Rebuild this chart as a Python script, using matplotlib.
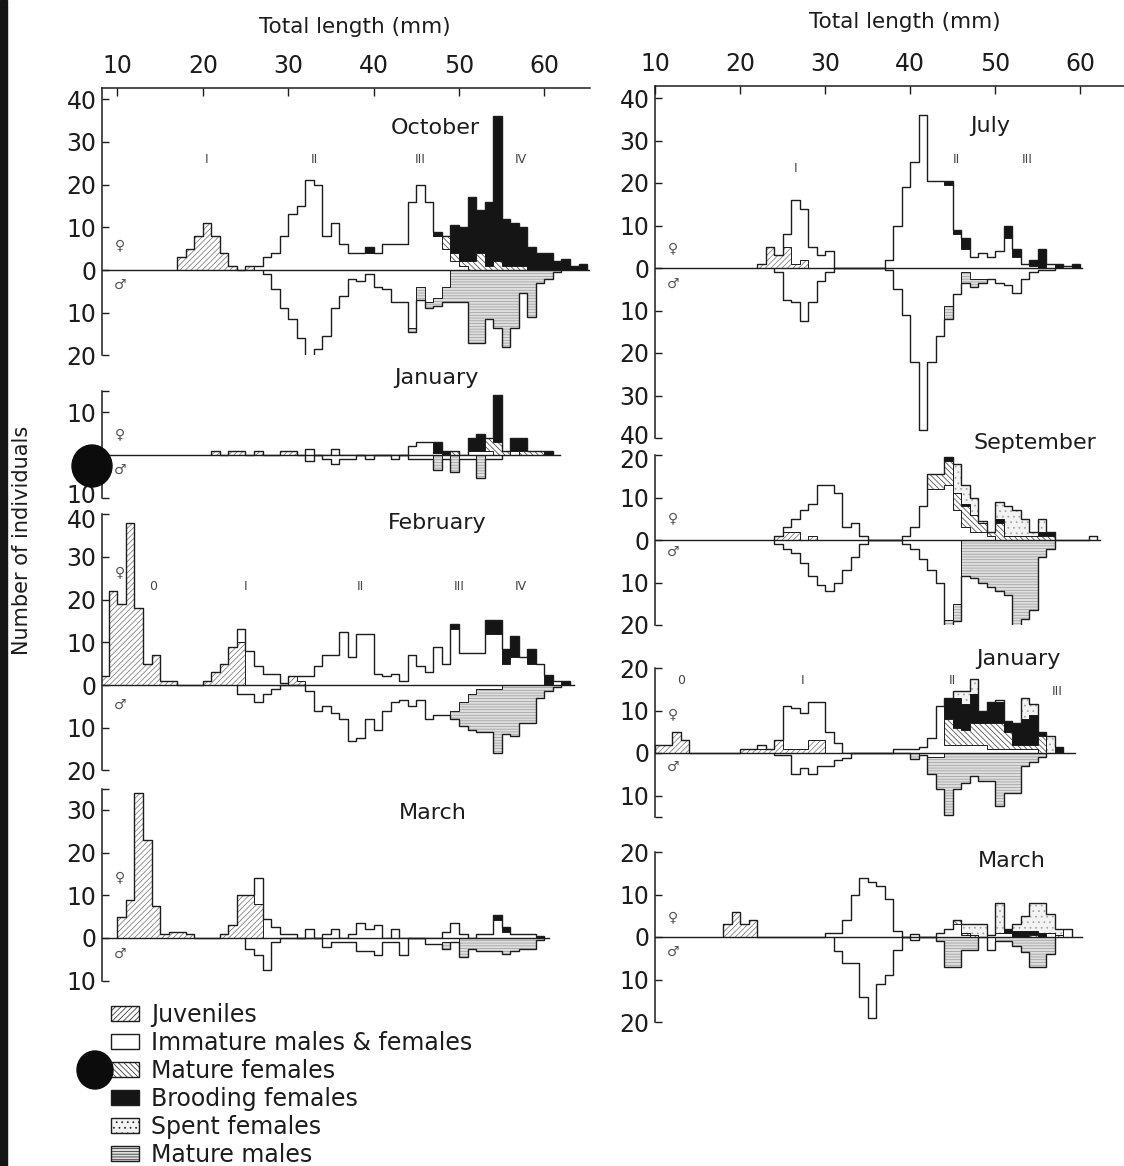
import numpy as np
import matplotlib.pyplot as plt
from matplotlib.patches import Patch, Rectangle, Ellipse
from matplotlib.transforms import ScaledTranslation

W, H = 1124, 1166
INK = '#1c1c1c'
plt.rcParams['font.family'] = ['DejaVu Sans']
plt.rcParams['hatch.linewidth'] = 0.5

# ---- counts per 1 mm length class: {class: n} ----
# October (left)
OCT_F_JUV = {17: 3, 18: 5, 19: 8, 20: 11, 21: 8, 22: 4, 23: 1, 25: 1}
OCT_F_IMM = {26: 1, 27: 3, 28: 4, 29: 8, 30: 13, 31: 15, 32: 21, 33: 20, 34: 8, 35: 11, 36: 6,
             37: 4, 38: 4, 39: 4, 40: 4, 41: 6, 42: 6, 43: 6, 44: 16, 45: 20, 46: 16, 47: 8,
             48: 5, 49: 2, 50: 1}
OCT_F_MAT = {48: 3, 49: 2, 50: 1, 51: 2, 52: 4, 53: 1, 54: 2, 55: 1, 56: 1, 57: 1}
OCT_F_BRD = {39: 1.5, 47: 1, 49: 6.5, 50: 8, 51: 15, 52: 10, 53: 15, 54: 34, 55: 11, 56: 10,
             57: 9, 58: 5.5, 59: 4, 60: 4, 61: 2, 62: 2.5, 63: 1, 64: 1.5}
OCT_M_IMM = {27: 1, 28: 4.5, 29: 9, 30: 11.5, 31: 16, 32: 20.5, 33: 18.5, 34: 15.5, 35: 9, 36: 6,
             37: 2, 38: 2.5, 39: 1, 40: 4, 41: 4.5, 42: 7.5, 43: 7.5, 44: 13.5, 45: 4, 46: 7.5,
             47: 6.5, 48: 4}
OCT_M_MAT = {44: 1, 45: 3, 46: 1.5, 47: 2, 48: 3.5, 49: 7.5, 50: 7.5, 51: 17, 52: 17, 53: 11.5,
             54: 13.5, 55: 18, 56: 13.5, 57: 5.5, 58: 11, 59: 3, 60: 2, 61: 0.5}

# January (left)
JAN1_F_JUV = {21: 1, 23: 1, 24: 1, 26: 1, 29: 1, 30: 1}
JAN1_F_IMM = {32: 1.5, 35: 1.5, 44: 2, 45: 3, 46: 3, 47: 0.5, 51: 1, 52: 1, 53: 1, 56: 1}
JAN1_F_MAT = {49: 1, 53: 3, 54: 3, 55: 1, 57: 1, 58: 1, 59: 1}
JAN1_F_BRD = {47: 2.5, 48: 1, 51: 3, 52: 4, 54: 11, 56: 3, 57: 3, 60: 1}
JAN1_M_IMM = {32: 1.5, 34: 1, 35: 2, 36: 1, 37: 1, 39: 1, 42: 1, 44: 1, 45: 1, 46: 1, 48: 1,
              50: 1, 51: 1, 53: 1, 54: 1}
JAN1_M_MAT = {47: 3.5, 49: 4, 52: 5.5}

# February (left)
FEB_F_JUV = {8: 2, 9: 22, 10: 19, 11: 38, 12: 18, 13: 5, 14: 7, 15: 1, 16: 1, 20: 1, 21: 3,
             22: 5, 23: 9, 24: 10, 30: 2, 31: 1}
FEB_F_IMM = {24: 3, 25: 8, 26: 4.5, 27: 2.5, 28: 2.5, 29: 0.5, 31: 1, 32: 2, 33: 4.5, 34: 7,
             35: 7, 36: 12.5, 37: 6.5, 38: 12, 39: 12, 40: 2.5, 41: 2, 42: 2.5, 43: 1, 44: 7,
             45: 4.5, 46: 3, 47: 9, 48: 5, 49: 13, 50: 7.5, 51: 7.5, 52: 7.5, 53: 12, 54: 12,
             55: 5, 56: 6.5, 57: 6.5, 58: 5, 59: 5, 61: 1}
FEB_F_BRD = {49: 1.3, 53: 3.3, 54: 3.3, 55: 3.5, 56: 5, 58: 3.5, 60: 2.4, 62: 1}
FEB_M_IMM = {24: 2, 25: 2, 26: 4, 27: 2, 28: 1, 32: 1.5, 33: 6, 34: 5, 35: 6.5, 36: 8, 37: 13,
             38: 12.5, 39: 8, 40: 10.5, 41: 6, 42: 4, 43: 3.5, 44: 5, 45: 3.5, 46: 8, 47: 7,
             48: 7, 49: 6, 50: 4, 51: 2, 52: 1, 53: 1, 54: 1}
FEB_M_MAT = {49: 2, 50: 5.5, 51: 8.5, 52: 10, 53: 10, 54: 15, 55: 11.5, 56: 12, 57: 9, 58: 9,
             59: 3, 60: 1.5, 61: 0.5}

# March (left)
MAR1_F_JUV = {10: 5, 11: 9, 12: 34, 13: 23, 14: 7.5, 15: 1, 16: 1.5, 17: 1.5, 18: 1, 22: 1,
              23: 3, 24: 10, 25: 10, 26: 8}
MAR1_F_IMM = {26: 6, 27: 4.5, 28: 2.5, 29: 1, 30: 1, 32: 2, 34: 1, 35: 2, 37: 1, 38: 3.5,
              39: 2, 40: 3, 42: 2, 48: 1.5, 49: 3.5, 50: 1, 52: 1, 53: 1, 54: 4.3, 55: 1.5,
              56: 1, 57: 1, 58: 1}
MAR1_F_BRD = {54: 1, 55: 1, 59: 0.5}
MAR1_M_IMM = {25: 2.5, 26: 4, 27: 7.5, 28: 1, 34: 2, 35: 1, 36: 1, 37: 1, 38: 3, 39: 3, 40: 4,
              41: 1, 42: 1, 43: 4, 46: 1.5, 47: 1.5, 48: 1, 49: 1}
MAR1_M_MAT = {48: 1.5, 50: 4.5, 51: 2.5, 52: 3, 53: 3, 54: 3, 55: 3.8, 56: 3, 57: 2.5, 58: 2.5,
              59: 0.5}

# July (right)
JUL_F_JUV = {22: 1, 23: 5, 24: 3, 25: 5, 26: 1, 27: 2}
JUL_F_IMM = {25: 3, 26: 15, 27: 12, 28: 5, 29: 3, 30: 4, 37: 2, 38: 10, 39: 19, 40: 25, 41: 36,
             42: 20.5, 43: 20.5, 44: 19.5, 45: 8, 46: 4.5, 47: 2.5, 48: 3.5, 49: 2.5, 50: 4,
             51: 7, 52: 2.5, 53: 1, 54: 0.5, 56: 1, 58: 0.5}
JUL_F_BRD = {44: 1, 45: 1, 46: 2.5, 51: 3, 52: 2, 54: 1.5, 55: 4.5, 57: 1, 59: 1}
JUL_M_IMM = {24: 1, 25: 7.5, 26: 8, 27: 12.5, 28: 8, 29: 3, 30: 1, 37: 0.5, 38: 5, 39: 11,
             40: 22, 41: 38, 42: 22, 43: 16, 44: 9, 45: 6, 46: 1, 47: 2.5, 48: 2.5, 49: 2.5,
             50: 3.5, 51: 4, 52: 5.8, 53: 2.5, 54: 1, 55: 0.5, 56: 0.5}
JUL_M_MAT = {44: 3, 46: 2.5, 47: 2, 48: 1}

# September (right)
SEP_F_JUV = {24: 1, 25: 2, 26: 2, 28: 1}
SEP_F_IMM = {25: 1, 26: 3, 27: 7, 28: 7.5, 29: 13, 30: 13, 31: 11, 32: 3, 33: 4, 34: 1, 39: 1,
             40: 3, 41: 8, 42: 12, 43: 12, 44: 13, 45: 7, 46: 3, 47: 2, 48: 2, 49: 1, 61: 1}
SEP_F_MAT = {42: 3.5, 43: 3.5, 44: 5.5, 45: 4, 46: 5, 47: 4, 48: 2, 49: 1, 50: 4, 51: 1, 52: 1,
             53: 1, 54: 1, 55: 1, 56: 1}
SEP_F_BRD = {44: 1, 46: 0.5, 50: 1, 55: 1, 56: 1}
SEP_F_SPT = {45: 7, 46: 4.5, 47: 4, 48: 0.5, 50: 4, 51: 7, 52: 6, 53: 4, 54: 1, 55: 3}
SEP_M_IMM = {24: 1, 25: 2, 26: 3, 27: 5.5, 28: 8.5, 29: 10.5, 30: 12, 31: 10, 32: 7, 33: 4,
             34: 1, 39: 1, 40: 2, 41: 4.5, 42: 7, 43: 10, 44: 18.8, 45: 15}
SEP_M_MAT = {44: 5, 45: 4, 46: 8.5, 47: 9, 48: 10, 49: 11, 50: 12, 51: 13, 52: 20.5, 53: 18.5,
             54: 16.5, 55: 4, 56: 2}

# January (right)
JAN2_F_JUV = {10: 2, 11: 2, 12: 5, 13: 3, 20: 1, 21: 1, 22: 1, 23: 1, 24: 3, 25: 1, 26: 1,
              27: 1, 28: 3, 29: 3}
JAN2_F_IMM = {22: 1, 25: 10, 26: 9.5, 27: 8.5, 28: 9, 29: 9, 30: 5, 31: 2.3, 38: 1, 39: 1, 40: 1,
              41: 1.5, 42: 3.5, 43: 11, 44: 2, 45: 2, 46: 2, 47: 2, 48: 2, 49: 1, 50: 1, 51: 1,
              52: 1, 53: 1, 54: 1}
JAN2_F_MAT = {44: 6, 45: 4, 46: 3.5, 47: 5, 48: 5, 49: 6, 50: 6, 51: 4, 52: 1, 53: 1, 54: 1,
              55: 4}
JAN2_F_BRD = {44: 5, 45: 7, 46: 6, 47: 7, 48: 3, 49: 5, 50: 5, 51: 2.5, 52: 5, 53: 6, 54: 7,
              55: 1, 57: 1.5}
JAN2_F_SPT = {45: 1.5, 46: 3, 47: 3.5, 50: 0.5, 53: 5, 54: 2.5, 56: 4}
JAN2_M_IMM = {24: 0.5, 25: 0.5, 26: 5, 27: 3.5, 28: 5, 29: 3, 30: 3, 31: 1.7, 32: 1.2, 41: 0.5,
              42: 1, 43: 1}
JAN2_M_MAT = {40: 1.5, 42: 4, 43: 7.5, 44: 14.5, 45: 8.5, 46: 7, 47: 5.5, 48: 6.5, 49: 6.5,
              50: 12.5, 51: 9.5, 52: 9.5, 53: 3, 54: 2, 55: 1}

# March (right)
MAR2_F_JUV = {18: 3, 19: 6, 20: 3, 21: 4}
MAR2_F_IMM = {30: 1, 31: 1, 32: 4, 33: 10, 34: 14, 35: 13, 36: 12, 37: 9, 38: 1.5, 40: 0.8,
              43: 1, 44: 2, 45: 3, 46: 0.5, 49: 0.5, 50: 1, 51: 1, 56: 1, 58: 2}
MAR2_F_MAT = {45: 1, 46: 0.5, 47: 0.5, 54: 0.5, 57: 0.5}
MAR2_F_BRD = {51: 1, 52: 1.5, 53: 1.5, 54: 1, 55: 1}
MAR2_F_SPT = {46: 2, 47: 2.5, 48: 3, 50: 7, 52: 1.5, 53: 3.5, 54: 6.5, 55: 7, 56: 4.5, 57: 1.5}
MAR2_M_IMM = {31: 3.4, 32: 6, 33: 6, 34: 14, 35: 19, 36: 11, 37: 9, 38: 3, 40: 0.8, 49: 3}
MAR2_M_MAT = {43: 1, 44: 7, 45: 7, 46: 3, 47: 3, 50: 1, 51: 1, 52: 2, 53: 3.5, 54: 7, 55: 7,
              56: 4}

LEGEND_LABELS = ['Juveniles', 'Immature males & females', 'Mature females',
                 'Brooding females', 'Spent females', 'Mature males']

STYLE = {
    'juv': dict(facecolor='white', edgecolor='#6e6e6e', hatch='//////'),
    'imm': dict(facecolor='white', edgecolor='white'),
    'mat': dict(facecolor='white', edgecolor='#3a3a3a', hatch='\\\\\\\\\\\\'),
    'brd': dict(facecolor='#151515', edgecolor='#151515'),
    'spt': dict(facecolor='#f3f3f3', edgecolor='#a0a0a0', hatch='...'),
    'mm': dict(facecolor='#dedede', edgecolor='#9a9a9a', hatch='------'),
}

COLS = [dict(px0=102, xlim=(8.2, 65.3), pxmm=8.54, sy=4.27),
        dict(px0=655, xlim=(10.0, 65.2), pxmm=8.5, sy=4.25)]

PANELS = [
    dict(col=0, zero=270, ylim=(-20, 42.6), ticks=[40, 30, 20, 10, 0, -10, -20], top=True,
         fem=[(OCT_F_JUV, 'juv'), (OCT_F_IMM, 'imm'), (OCT_F_MAT, 'mat'), (OCT_F_BRD, 'brd')],
         mal=[(OCT_M_IMM, 'imm'), (OCT_M_MAT, 'mm')], zend=65.3, nudge={},
         title=('October', 47.2, 33.3), sym=(10.3, 5.9, -3.5),
         roman=[('I', 20.4, 25.8), ('II', 33.1, 25.8), ('III', 45.5, 25.8), ('IV', 57.2, 25.8)]),
    dict(col=0, zero=455, ylim=(-10, 15), ticks=[10, 0, -10], top=False,
         fem=[(JAN1_F_JUV, 'juv'), (JAN1_F_IMM, 'imm'), (JAN1_F_MAT, 'mat'), (JAN1_F_BRD, 'brd')],
         mal=[(JAN1_M_IMM, 'imm'), (JAN1_M_MAT, 'mm')], zend=61.8, nudge={-10: 4},
         title=('January', 47.4, 18.0), sym=(10.3, 4.9, -3.5), roman=[]),
    dict(col=0, zero=685, ylim=(-20, 40), ticks=[40, 30, 20, 10, 0, -10, -20], top=False,
         fem=[(FEB_F_JUV, 'juv'), (FEB_F_IMM, 'imm'), (FEB_F_BRD, 'brd')],
         mal=[(FEB_M_IMM, 'imm'), (FEB_M_MAT, 'mm')], zend=63.5, nudge={40: -4},
         title=('February', 47.4, 37.9), sym=(10.3, 26.5, -4.7),
         roman=[('0', 14.2, 23), ('I', 25.0, 23), ('II', 38.4, 23), ('III', 50.0, 23),
                ('IV', 57.2, 23)]),
    dict(col=0, zero=938, ylim=(-10, 35), ticks=[30, 20, 10, 0, -10], top=False,
         fem=[(MAR1_F_JUV, 'juv'), (MAR1_F_IMM, 'imm'), (MAR1_F_BRD, 'brd')],
         mal=[(MAR1_M_IMM, 'imm'), (MAR1_M_MAT, 'mm')], zend=60.5, nudge={},
         title=('March', 46.9, 29.3), sym=(10.3, 14.3, -3.7), roman=[]),
    dict(col=1, zero=268, ylim=(-40, 42.9), ticks=[40, 30, 20, 10, 0, -10, -20, -30, -40], top=True,
         fem=[(JUL_F_JUV, 'juv'), (JUL_F_IMM, 'imm'), (JUL_F_BRD, 'brd')],
         mal=[(JUL_M_IMM, 'imm'), (JUL_M_MAT, 'mm')], zend=60.2, nudge={-40: 4},
         title=('July', 49.4, 33.4), sym=(12.1, 4.7, -3.8),
         roman=[('I', 26.5, 23.5), ('II', 45.4, 25.5), ('III', 53.8, 25.5)]),
    dict(col=1, zero=540, ylim=(-20, 20), ticks=[20, 10, 0, -10, -20], top=False,
         fem=[(SEP_F_JUV, 'juv'), (SEP_F_IMM, 'imm'), (SEP_F_MAT, 'mat'), (SEP_F_BRD, 'brd'),
              (SEP_F_SPT, 'spt')],
         mal=[(SEP_M_IMM, 'imm'), (SEP_M_MAT, 'mm')], zend=62.4, nudge={20: -3},
         title=('September', 54.7, 22.8), sym=(12.1, 5.2, -2.8), roman=[]),
    dict(col=1, zero=753, ylim=(-15, 20), ticks=[20, 10, 0, -10], top=False,
         fem=[(JAN2_F_JUV, 'juv'), (JAN2_F_IMM, 'imm'), (JAN2_F_MAT, 'mat'), (JAN2_F_BRD, 'brd'),
              (JAN2_F_SPT, 'spt')],
         mal=[(JAN2_M_IMM, 'imm'), (JAN2_M_MAT, 'mm')], zend=59.4, nudge={},
         title=('January', 52.7, 22.1), sym=(12.1, 9.2, -3.3),
         roman=[('0', 13.1, 17), ('I', 27.4, 17), ('II', 45.0, 17), ('III', 57.3, 14.4)]),
    dict(col=1, zero=937, ylim=(-20, 20), ticks=[20, 10, 0, -10, -20], top=False,
         fem=[(MAR2_F_JUV, 'juv'), (MAR2_F_IMM, 'imm'), (MAR2_F_MAT, 'mat'), (MAR2_F_BRD, 'brd'),
              (MAR2_F_SPT, 'spt')],
         mal=[(MAR2_M_IMM, 'imm'), (MAR2_M_MAT, 'mm')], zend=60.2, nudge={},
         title=('March', 52.0, 17.9), sym=(12.1, 4.7, -3.5), roman=[]),
]


def stack(ax, layers, sign):
    layers = [(d, k) for d, k in layers if d]
    bins = sorted(set(b for d, _ in layers for b in d))
    lo, hi = bins[0], bins[-1]
    edges = np.arange(lo, hi + 2)
    base = np.zeros(len(edges) - 1)
    tops = []
    for d, k in layers:
        vals = sign * np.array([d.get(b, 0) for b in range(lo, hi + 1)], float)
        ax.stairs(base + vals, edges, baseline=base.copy(), fill=True, linewidth=0, **STYLE[k])
        base = base + vals
        tops.append(base.copy())
    for t in tops[:-1]:
        ax.stairs(t, edges, baseline=None, color=INK, lw=0.7)
    ax.stairs(tops[-1], edges, baseline=0, color=INK, lw=1.0)


fig = plt.figure(figsize=(W / 100, H / 100), dpi=100)

for p in PANELS:
    c = COLS[p['col']]
    y0, y1 = p['ylim']
    top_px = p['zero'] - y1 * c['sy']
    h_px = (y1 - y0) * c['sy']
    w_px = (c['xlim'][1] - c['xlim'][0]) * c['pxmm']
    ax = fig.add_axes([c['px0'] / W, 1 - (top_px + h_px) / H, w_px / W, h_px / H])
    ax.patch.set_alpha(0)
    ax.set_xlim(*c['xlim'])
    ax.set_ylim(y0, y1)

    stack(ax, p['fem'], 1)
    stack(ax, p['mal'], -1)
    ax.plot([c['xlim'][0], p['zend']], [0, 0], color=INK, lw=1.0)

    for s in ['right', 'bottom']:
        ax.spines[s].set_visible(False)
    ax.spines['left'].set_color(INK)
    ax.spines['left'].set_linewidth(1.1)
    ax.set_yticks(p['ticks'])
    ax.set_yticklabels([str(abs(t)) for t in p['ticks']])
    ends = [e for e in (y0, y1) if e not in p['ticks'] and not (p['top'] and e == y1)]
    ax.set_yticks(ends, minor=True)
    ax.tick_params(axis='y', which='both', direction='in', length=5, width=1.0,
                   labelsize=17, pad=4, colors=INK)
    for t, lab in zip(p['ticks'], ax.get_yticklabels()):
        if t in p['nudge']:
            lab.set_transform(lab.get_transform() +
                              ScaledTranslation(0, p['nudge'][t] / 100, fig.dpi_scale_trans))
    if p['top']:
        ax.spines['top'].set_color(INK)
        ax.spines['top'].set_linewidth(1.1)
        ax.xaxis.tick_top()
        ax.set_xticks([10, 20, 30, 40, 50, 60])
        ax.tick_params(axis='x', direction='in', length=6, width=1.0, labelsize=17, pad=7,
                       colors=INK)
    else:
        ax.spines['top'].set_visible(False)
        ax.set_xticks([])

    name, tx, ty = p['title']
    ax.text(tx, ty, name, ha='center', va='center', fontsize=16, color=INK, clip_on=False)
    sx, fy, my = p['sym']
    ax.text(sx, fy, '\u2640', ha='center', va='center', fontsize=10, color='#555555')
    ax.text(sx, my, '\u2642', ha='center', va='center', fontsize=10, color='#555555')
    for lab, rx, ry in p['roman']:
        ax.text(rx, ry, lab, ha='center', va='center', fontsize=9, color='#444444')

fig.text(355 / W, 1 - 27 / H, 'Total length (mm)', ha='center', va='center', fontsize=15.5,
         color=INK)
fig.text(905 / W, 1 - 22 / H, 'Total length (mm)', ha='center', va='center', fontsize=15.5,
         color=INK)
fig.text(22 / W, 1 - 540 / H, 'Number of individuals', rotation=90, ha='center', va='center',
         fontsize=15, color=INK)

keys = ['juv', 'imm', 'mat', 'brd', 'spt', 'mm']
handles = [Patch(facecolor=STYLE[k]['facecolor'], hatch=STYLE[k].get('hatch'),
                 edgecolor=INK, linewidth=1.0) for k in keys]
fig.legend(handles, LEGEND_LABELS, loc='upper left', bbox_to_anchor=(111 / W, 1 - 1003 / H),
           frameon=False, fontsize=17, handlelength=1.2, handleheight=0.6, handletextpad=0.5,
           labelspacing=0.17, borderaxespad=0, borderpad=0, labelcolor=INK)

# scan artefacts: dark left margin and two punch-hole blots
fig.add_artist(Rectangle((0, 0), 7 / W, 1, transform=fig.transFigure, color='#161616', zorder=20))
fig.add_artist(Ellipse((92 / W, 1 - 466 / H), 40 / W, 42 / H, transform=fig.transFigure,
                       color='#0c0c0c', zorder=20))
fig.add_artist(Ellipse((95 / W, 1 - 1070 / H), 36 / W, 38 / H, transform=fig.transFigure,
                       color='#0c0c0c', zorder=20))

fig.savefig('out.png', dpi=100)
